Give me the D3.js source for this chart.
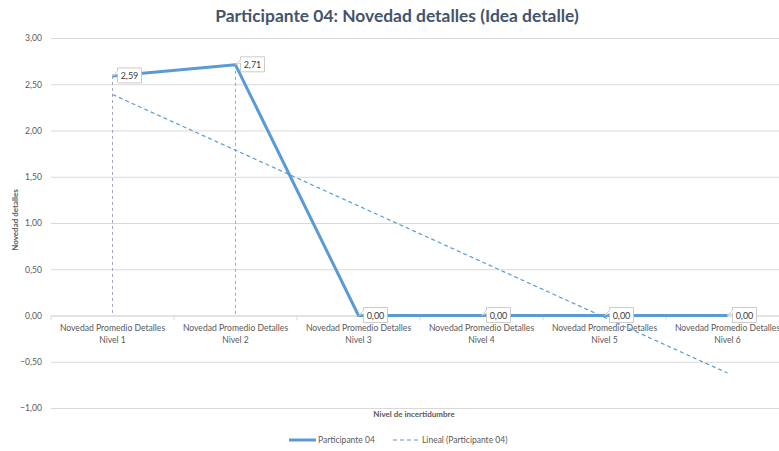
<!DOCTYPE html>
<html>
<head>
<meta charset="utf-8">
<script src="https://cdn.jsdelivr.net/npm/d3@7"></script>
<style>
  body { margin: 0; background: #fff; }
  svg { display: block; font-family: Lato, "Open Sans", sans-serif; }
</style>
</head>
<body>
<script>
// chart data
var categories = ["Nivel 1", "Nivel 2", "Nivel 3", "Nivel 4", "Nivel 5", "Nivel 6"]
var catPrefix = "Novedad Promedio Detalles"
var values = [2.59, 2.71, 0, 0, 0, 0]
var yTicks = [-1, -0.5, 0, 0.5, 1, 1.5, 2, 2.5, 3]
var seriesName = "Participante 04"
var trendName = "Lineal (Participante 04)"

var width = 779, height = 451
var plotL = 51, plotR = 789, plotT = 38, plotB = 408

var svg = d3.select("body").append("svg")
    .attr("width", width)
    .attr("height", height)

var fmt = function (v) { return d3.format(".2f")(v).replace(".", ",") }

//scales
var xScale = d3.scaleBand().domain(categories).range([plotL, plotR])
var yScale = d3.scaleLinear().domain([-1, 3]).range([plotB, plotT])
var cx = function (c) { return xScale(c) + xScale.bandwidth() / 2 }

//gridlines + y labels
var yAxis = d3.axisLeft(yScale).tickValues(yTicks).tickFormat(fmt)
    .tickSize(-(plotR - plotL)).tickPadding(9)
var gy = svg.append("g").attr("transform", "translate(" + plotL + ",0)").call(yAxis)
gy.select(".domain").remove()
gy.selectAll("line").attr("stroke", "#d9d9d9")
gy.selectAll("text").attr("fill", "#595959").attr("font-size", 8.6).attr("font-family", "Lato, sans-serif")

//x axis on zero
var xAxis = d3.axisBottom(xScale).tickSize(0).tickFormat("")
var gx = svg.append("g").attr("transform", "translate(0," + yScale(0) + ")").call(xAxis)
gx.select(".domain").attr("stroke", "#d9d9d9")
// category separator ticks
gx.selectAll(".sep").data(categories).enter().append("line")
    .attr("x1", d => xScale(d)).attr("x2", d => xScale(d))
    .attr("y1", 0).attr("y2", 5).attr("stroke", "#d9d9d9")
var cl = svg.append("g").selectAll("text").data(categories).enter().append("text")
    .attr("x", d => cx(d)).attr("y", yScale(0) + 15)
    .attr("text-anchor", "middle").attr("fill", "#595959").attr("font-size", 8.6)
cl.append("tspan").attr("x", d => cx(d)).text(catPrefix)
cl.append("tspan").attr("x", d => cx(d)).attr("dy", 12).text(d => d)

//drop lines
svg.append("g").selectAll("line").data(values).enter().append("line")
    .attr("x1", (d, i) => cx(categories[i])).attr("x2", (d, i) => cx(categories[i]))
    .attr("y1", d => yScale(d)).attr("y2", yScale(0))
    .attr("stroke", "#a3a3bd").attr("stroke-width", 1).attr("stroke-dasharray", "3,3")

//linear trend (least squares, like the spreadsheet trendline)
var n = values.length
var mx = d3.mean(values, (d, i) => i + 1), my = d3.mean(values)
var sxy = d3.sum(values, (d, i) => (i + 1 - mx) * (d - my))
var sxx = d3.sum(values, (d, i) => (i + 1 - mx) * (i + 1 - mx))
var slope = sxy / sxx, icpt = my - slope * mx
var trend = [[1, icpt + slope], [n, icpt + slope * n]]
svg.append("line")
    .attr("x1", cx(categories[0])).attr("y1", yScale(trend[0][1]))
    .attr("x2", cx(categories[n - 1])).attr("y2", yScale(trend[1][1]))
    .attr("stroke", "#5b9bd5").attr("stroke-width", 1.2).attr("stroke-dasharray", "4,3")

//main line
var line = d3.line().x((d, i) => cx(categories[i])).y(d => yScale(d))
svg.append("path").datum(values).attr("d", line)
    .attr("fill", "none").attr("stroke", "#5b9bd5").attr("stroke-width", 3)
    .attr("stroke-linejoin", "round")

//data labels (callouts)
var lab = svg.append("g").selectAll("g").data(values).enter().append("g")
    .attr("transform", (d, i) => "translate(" + cx(categories[i]) + "," + yScale(d) + ")")
lab.append("path")
    .attr("d", "M5,-8 H29 V7 H5 V-2 L0,0 L5,-5 Z")
    .attr("fill", "#fff").attr("stroke", "#bfbfbf").attr("stroke-width", 0.8)
lab.append("text").attr("x", 17).attr("y", 3)
    .attr("text-anchor", "middle").attr("fill", "#404040").attr("font-size", 9)
    .text(d => fmt(d))

//title
svg.append("text").attr("x", 397).attr("y", 22).attr("text-anchor", "middle")
    .attr("font-size", 17.4).attr("font-weight", "bold").attr("fill", "#44546a")
    .text("Participante 04: Novedad detalles (Idea detalle)")

//axis titles
svg.append("text").attr("transform", "translate(18,220) rotate(-90)")
    .attr("text-anchor", "middle").attr("font-size", 8).attr("font-weight", "bold")
    .attr("fill", "#595959").text("Novedad detalles")
svg.append("text").attr("x", 414).attr("y", 417).attr("text-anchor", "middle")
    .attr("font-size", 8).attr("font-weight", "bold")
    .attr("fill", "#595959").text("Nivel de incertidumbre")

//legend
var lg = svg.append("g").attr("transform", "translate(0,440)")
lg.append("line").attr("x1", 289).attr("x2", 316).attr("stroke", "#5b9bd5").attr("stroke-width", 3)
lg.append("text").attr("x", 318).attr("y", 3).attr("font-size", 8.5).attr("fill", "#595959").text(seriesName)
lg.append("line").attr("x1", 393).attr("x2", 420).attr("stroke", "#5b9bd5")
    .attr("stroke-width", 1.2).attr("stroke-dasharray", "4,3")
lg.append("text").attr("x", 422).attr("y", 3).attr("font-size", 8.5).attr("fill", "#595959").text(trendName)
</script>
</body>
</html>
